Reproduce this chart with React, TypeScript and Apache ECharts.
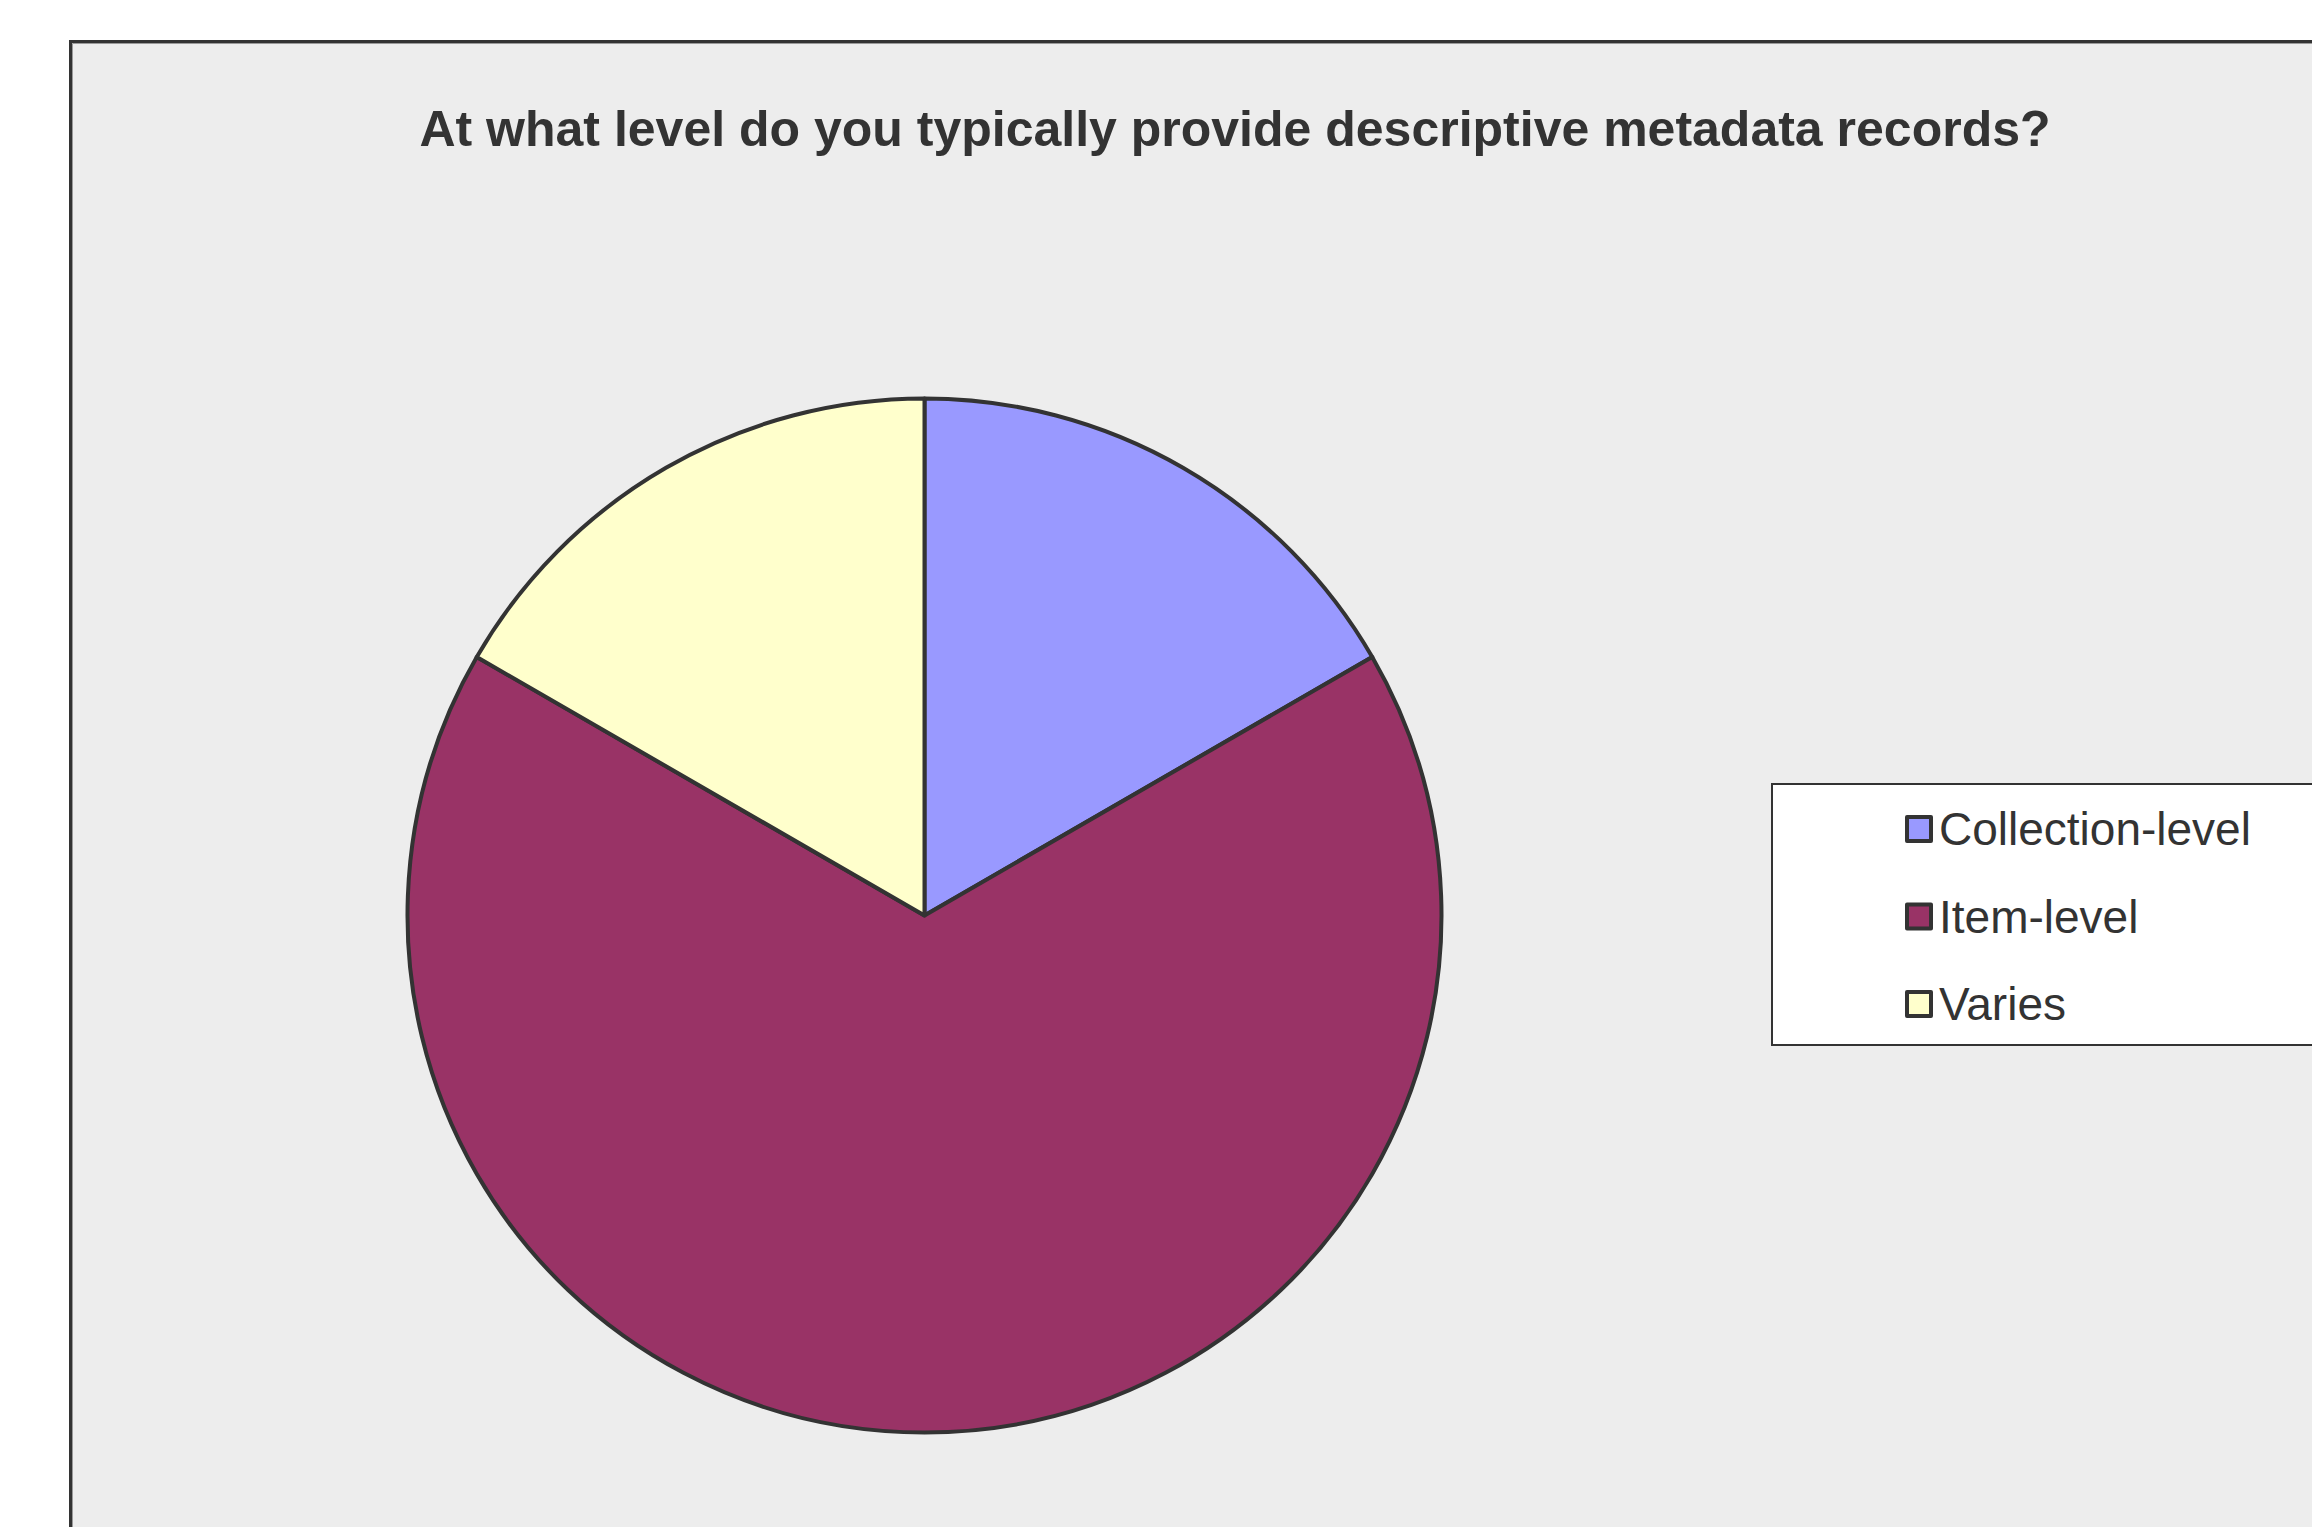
import React, { useEffect, useRef } from "react";
import * as echarts from "echarts";

const titleText = "At what level do you typically provide descriptive metadata records?";
const categories = ["Collection-level", "Item-level", "Varies"];
const values = [1, 4, 1];
const colors = ["#9999FF", "#993366", "#FFFFCC"];

export default function App() {
  const ref = useRef<HTMLDivElement>(null);
  useEffect(() => {
    if (!ref.current) return;
    const chart = echarts.init(ref.current, undefined, { renderer: "svg" });
    chart.setOption({
      animation: false,
      backgroundColor: "#FFFFFF",
      graphic: [
        {
          type: "rect",
          z: 0,
          silent: true,
          shape: { x: 70.5, y: 41.5, width: 2400, height: 1700 },
          style: { fill: "#EDEDED", stroke: "#333333", lineWidth: 3 },
        },
        {
          type: "rect",
          z: 0,
          silent: true,
          shape: { x: 72.5, y: 43.5, width: 2400, height: 1700 },
          style: { fill: "none", stroke: "#9a9a9a", lineWidth: 1 },
        },
      ],
      title: {
        text: titleText,
        left: 1235,
        top: 104,
        textAlign: "center",
        padding: 0,
        textStyle: {
          fontFamily: "'Liberation Sans', Arial, sans-serif",
          fontWeight: "bold",
          fontSize: 50,
          lineHeight: 50,
          color: "#333333",
        },
      },
      legend: {
        orient: "vertical",
        left: 1772,
        top: 784,
        padding: [22, 400, 18, 133],
        backgroundColor: "#FFFFFF",
        borderColor: "#333333",
        borderWidth: 2,
        itemWidth: 24,
        itemHeight: 24,
        itemGap: 41.5,
        icon: "rect",
        itemStyle: { borderColor: "#333333", borderWidth: 4 },
        textStyle: {
          fontFamily: "'Liberation Sans', Arial, sans-serif",
          fontSize: 46,
          lineHeight: 46,
          color: "#333333",
          padding: [0, 0, 0, 3],
        },
        data: categories,
      },
      series: [
        {
          type: "pie",
          center: [924.5, 915.5],
          radius: 517,
          startAngle: 90,
          clockwise: true,
          label: { show: false },
          labelLine: { show: false },
          emphasis: { disabled: true },
          itemStyle: { borderColor: "#333333", borderWidth: 4 },
          data: categories.map((name, i) => ({
            name,
            value: values[i],
            itemStyle: { color: colors[i] },
          })),
        },
      ],
    });
    return () => chart.dispose();
  }, []);
  return (
    <div
      ref={ref}
      style={{ position: "fixed", left: 0, top: 0, width: 2312, height: 1527 }}
    />
  );
}
